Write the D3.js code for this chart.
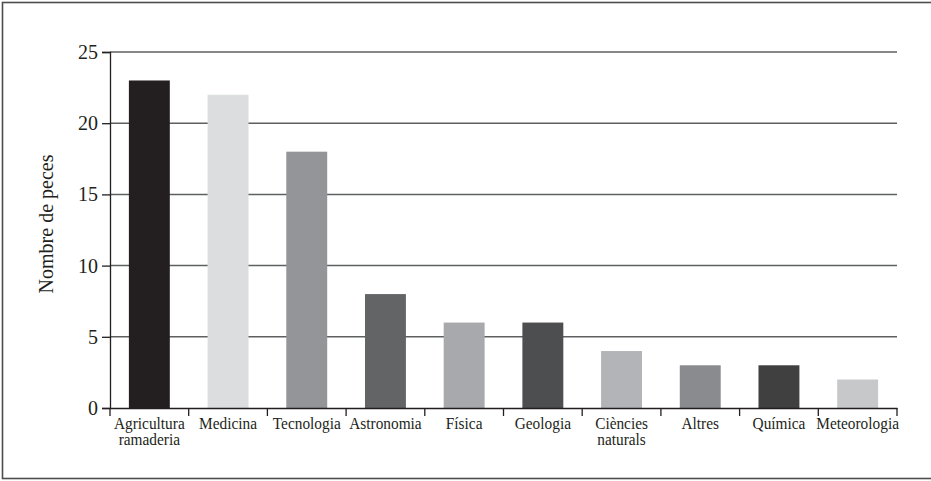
<!DOCTYPE html>
<html>
<head>
<meta charset="utf-8">
<script src="https://cdn.jsdelivr.net/npm/d3@7"></script>
<style>
  body { margin: 0; background: #fff; }
  text { font-family: "Liberation Serif", "Times New Roman", serif; fill: #231f20; }
</style>
</head>
<body>
<svg class="chart"></svg>
<script>
// Data
const categories = ["Agricultura\nramaderia", "Medicina", "Tecnologia", "Astronomia", "Física",
    "Geologia", "Ciències\nnaturals", "Altres", "Química", "Meteorologia"];
const values = [23, 22, 18, 8, 6, 6, 4, 3, 3, 2];
const barColors = ["#231f20", "#dcdddf", "#939598", "#636466", "#a7a9ac",
    "#4d4e50", "#b3b4b7", "#8a8b8e", "#404041", "#c7c8ca"];
const yTicks = [0, 5, 10, 15, 20, 25];

const W = 931, H = 481;
const margin = { top: 52, bottom: 73, left: 110, right: 34 };
const serif = "Liberation Serif";

const svg = d3.select(".chart").attr("width", W).attr("height", H);

// frame (open on the right side, like the scan)
svg.append("rect")
    .attr("x", 2.5).attr("y", 2.5)
    .attr("width", 960).attr("height", 476)
    .attr("fill", "none")
    .attr("stroke", "#4d4d4f")
    .attr("stroke-width", 1.6);

// Scales
const x = d3.scaleBand()
    .domain(categories)
    .range([margin.left, W - margin.right])
    .padding(0);
const y = d3.scaleLinear()
    .domain([0, 25])
    .range([H - margin.bottom, margin.top]);

const barW = x.bandwidth() * 0.52;

// grid lines
svg.append("g").selectAll("line")
    .data(yTicks.filter(d => d > 0))
    .join("line")
    .attr("x1", margin.left).attr("x2", W - margin.right)
    .attr("y1", d => y(d)).attr("y2", d => y(d))
    .attr("stroke", "#5e5f61")
    .attr("stroke-width", 1.5);

// bars
svg.append("g").selectAll("rect")
    .data(categories)
    .join("rect")
    .attr("x", d => x(d) + (x.bandwidth() - barW) / 2)
    .attr("width", barW)
    .attr("y", (d, i) => y(values[i]))
    .attr("height", (d, i) => y(0) - y(values[i]))
    .attr("fill", (d, i) => barColors[i]);

// y axis
const gy = svg.append("g")
    .attr("transform", `translate(${margin.left},0)`)
    .call(d3.axisLeft(y).tickValues(yTicks).tickSize(8).tickPadding(4))
    .attr("font-family", serif);
gy.select(".domain").attr("stroke", "#231f20").attr("stroke-width", 1.3);
gy.selectAll(".tick line").attr("stroke", "#231f20").attr("stroke-width", 1.3);
gy.selectAll(".tick text")
    .attr("font-size", 20)
    .attr("fill", "#231f20");

// x axis: labels centred in band, ticks at band boundaries
const gx = svg.append("g")
    .attr("transform", `translate(0,${y(0)})`)
    .call(d3.axisBottom(x).tickSize(0).tickPadding(0).tickFormat(""))
    .attr("font-family", serif);
gx.select(".domain").attr("stroke", "#231f20").attr("stroke-width", 1.3);

const bounds = categories.map(d => x(d)).concat([W - margin.right]);
gx.append("g").selectAll("line")
    .data(bounds)
    .join("line")
    .attr("x1", d => d).attr("x2", d => d)
    .attr("y1", 0).attr("y2", 8)
    .attr("stroke", "#231f20")
    .attr("stroke-width", 1.3);

// labels are a bit condensed in the original, so squeeze horizontally
gx.selectAll(".tick").each(function (d) {
    const t = d3.select(this).append("text")
        .attr("text-anchor", "middle")
        .attr("font-size", 16.5)
        .attr("font-family", serif)
        .attr("fill", "#231f20")
        .attr("transform", "scale(0.93,1)");
    d.split("\n").forEach((line, i) => {
        t.append("tspan").attr("x", 0).attr("y", 21 + i * 16).text(line);
    });
});

// y title
svg.append("text")
    .attr("transform", `translate(53,${(y(0) + y(25)) / 2 - 6}) rotate(-90)`)
    .attr("text-anchor", "middle")
    .attr("font-size", 20)
    .attr("font-family", serif)
    .text("Nombre de peces");
</script>
</body>
</html>
